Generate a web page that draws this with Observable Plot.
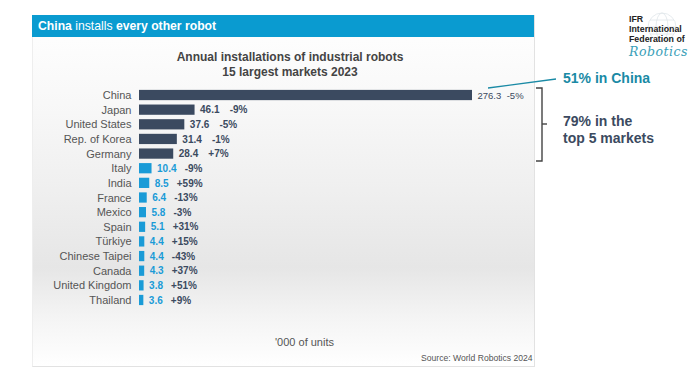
<!DOCTYPE html>
<html>
<head>
<meta charset="utf-8">
<script src="https://cdn.jsdelivr.net/npm/d3@7"></script>
<script src="https://cdn.jsdelivr.net/npm/@observablehq/plot@0.6"></script>
<style>
  html, body { margin: 0; padding: 0; background: #fff; }
  body { font-family: "Liberation Sans", Arial, sans-serif; }
  #wrap { position: relative; width: 700px; height: 376px; overflow: hidden; background: #fff; }
  #panel { position: absolute; left: 32px; top: 15px; width: 501px; height: 351px;
    border-right: 1px solid #e2e2e2; border-bottom: 1px solid #e2e2e2; border-left: 1px solid #eee;
    background: linear-gradient(to bottom, #ffffff 0%, #f8f8f8 25%, #efefef 50%, #e6e6e6 72%, #f4f4f4 86%, #ffffff 100%); }
  #header { position: absolute; left: 32px; top: 15px; width: 502px; height: 22px; background: #0a9bd0;
    color: #fff; font-size: 12.2px; line-height: 22px; box-sizing: border-box; padding-left: 6px; }
  #header b { font-weight: bold; }
  .abs { position: absolute; white-space: nowrap; }
  #title { left: 32px; width: 502px; top: 50px; text-align: center; color: #444; font-weight: bold; font-size: 12px; line-height: 14.5px; padding-left: 14px; box-sizing: border-box; }
  #chart { position: absolute; left: 0; top: 0; }
  #units { left: 275px; top: 336px; font-size: 11px; color: #555; }
  #source { left: 421px; top: 353px; font-size: 8.6px; color: #555; }
  #ann1 { left: 563px; top: 70px; font-size: 14px; font-weight: bold; color: #1a8aa5; }
  #ann2 { left: 563px; top: 113px; font-size: 14px; font-weight: bold; color: #3b4a60; line-height: 16.5px; }
  #logo { left: 629px; top: 14px; font-size: 8.8px; font-weight: bold; color: #222; line-height: 10px; }
  #logo .rob { font-family: "DejaVu Serif", serif; font-style: italic; font-weight: normal; color: #3aa0b8; font-size: 12.5px; letter-spacing: 0.5px; line-height: 15px; }
  #over { position: absolute; left: 0; top: 0; }
</style>
</head>
<body>
<div id="wrap">
  <div id="panel"></div>
  <div id="header"><b>China</b> installs <b>every other robot</b></div>
  <div id="title" class="abs">Annual installations of industrial robots<br>15 largest markets 2023</div>
  <div id="chart"></div>
  <div id="units" class="abs">'000 of units</div>
  <div id="source" class="abs">Source: World Robotics 2024</div>
  <svg id="over" width="700" height="376">
    <line x1="488" y1="88" x2="556" y2="79" stroke="#1a8aa5" stroke-width="1.3"/>
    <polyline points="536,88 542,88 542,161 536,161" fill="none" stroke="#444" stroke-width="1.4"/>
    <line x1="542" y1="124" x2="547" y2="124" stroke="#444" stroke-width="1.4"/>
    <g fill="none" stroke="#dfe6ea" stroke-width="0.8">
      <circle cx="662" cy="27" r="14"/>
      <ellipse cx="662" cy="27" rx="6" ry="14"/>
      <line x1="648" y1="27" x2="676" y2="27"/>
      <line x1="650" y1="20" x2="674" y2="20"/>
      <line x1="650" y1="34" x2="674" y2="34"/>
    </g>
  </svg>
  <div id="ann1" class="abs">51% in China</div>
  <div id="ann2" class="abs">79% in the<br>top 5 markets</div>
  <div id="logo" class="abs">IFR<br>International<br>Federation of<br><span class="rob">Robotics</span></div>
</div>
<script>
const countries = ["China","Japan","United States","Rep. of Korea","Germany","Italy","India","France","Mexico","Spain","Türkiye","Chinese Taipei","Canada","United Kingdom","Thailand"];
const installs = [276.3,46.1,37.6,31.4,28.4,10.4,8.5,6.4,5.8,5.1,4.4,4.4,4.3,3.8,3.6];
const growth = ["-5%","-9%","-5%","-1%","+7%","-9%","+59%","-13%","-3%","+31%","+15%","-43%","+37%","+51%","+9%"];
const topCount = 5;

const dark = "#3b4a60", light = "#1a9bd7";
const data = countries.map((c, i) => ({country: c, value: installs[i], growth: growth[i], top: i < topCount, first: i === 0}));

const W = 700, H = 376, mL = 139, mR = 228;
const xMax = d3.max(installs);
const k = (W - mL - mR) / xMax; // px per unit
const labelW = d => {
  const s = d.value.toFixed(1);
  const per = d.first ? 4.6 : 5.6;
  return (s.length - 1) * per + 2.8;
};

const chart = Plot.plot({
  width: W, height: H,
  marginLeft: mL, marginRight: mR, marginTop: 85.5, marginBottom: 66.5,
  style: {background: "transparent", fontFamily: '"Liberation Sans", Arial, sans-serif', overflow: "visible"},
  x: {domain: [0, xMax], axis: null},
  y: {domain: countries, padding: 0.3, round: false, axis: null},
  marks: [
    Plot.barX(data, {x: "value", y: "country", fill: d => d.top ? dark : light}),
    Plot.axisY({tickSize: 0, tickPadding: 8, fontSize: 11, fill: "#555", label: null}),
    Plot.text(data.filter(d => !d.first), {x: "value", y: "country", text: d => d.value.toFixed(1), dx: 5, textAnchor: "start",
      fill: d => d.top ? dark : light, fontWeight: "bold", fontSize: 10}),
    Plot.text(data.filter(d => d.first), {x: "value", y: "country", text: d => d.value.toFixed(1), dx: 5, textAnchor: "start",
      fill: dark, fontSize: 9.5}),
    Plot.text(data.filter(d => !d.first), {x: d => d.value + (5 + labelW(d) + (d.top ? 10 : 8)) / k, y: "country", text: "growth", textAnchor: "start",
      fill: dark, fontWeight: "bold", fontSize: 10}),
    Plot.text(data.filter(d => d.first), {x: d => d.value + (5 + labelW(d) + 8) / k, y: "country", text: "growth", textAnchor: "start",
      fill: dark, fontSize: 9.5})
  ]
});
document.getElementById("chart").appendChild(chart);
</script>
</body>
</html>
